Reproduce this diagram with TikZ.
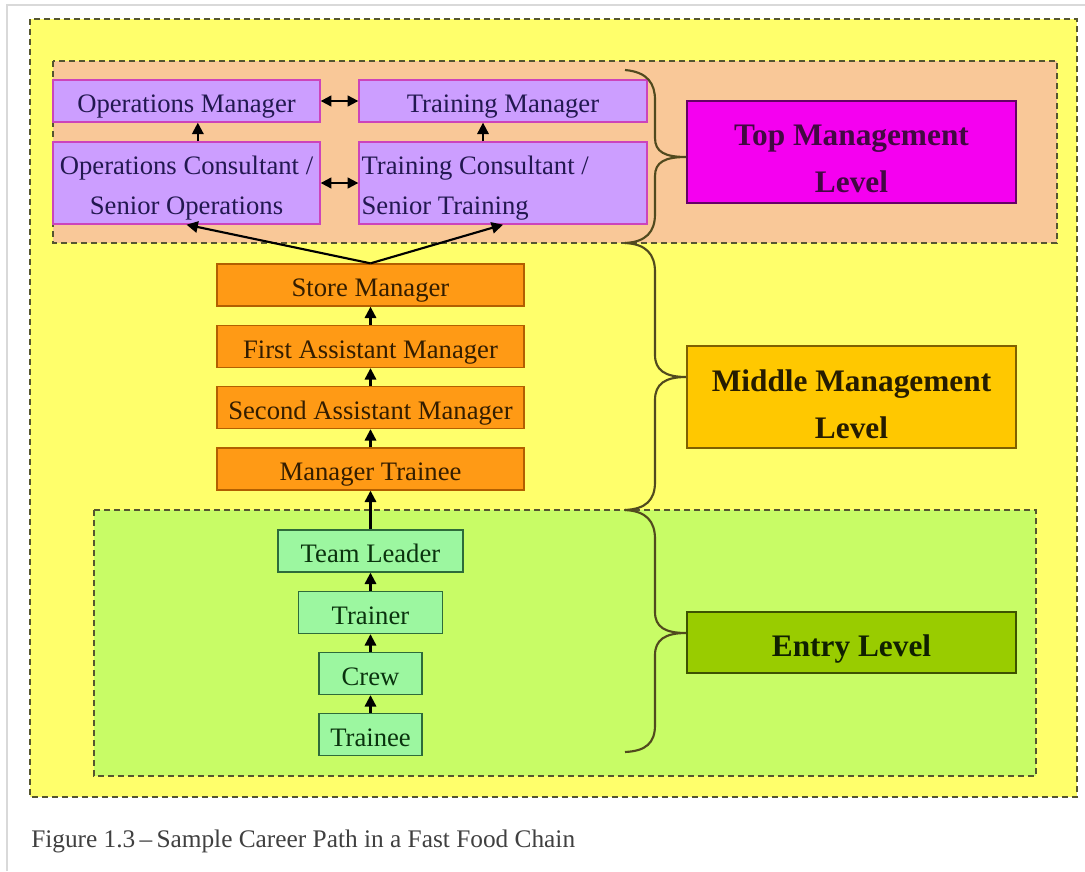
\documentclass[tikz,border=0pt]{standalone}
\usepackage{fontspec}
\setmainfont{Liberation Serif}
\usetikzlibrary{arrows.meta}
\definecolor{yellowbg}{HTML}{FFFF6B}
\definecolor{peachbg}{HTML}{F9C898}
\definecolor{greenbg}{HTML}{C8FC66}
\definecolor{dashc}{HTML}{555530}
\definecolor{purplef}{HTML}{CC9EFF}
\definecolor{purpled}{HTML}{CC44BB}
\definecolor{purplet}{HTML}{221850}
\definecolor{orangef}{HTML}{FF9A15}
\definecolor{oranged}{HTML}{B35F00}
\definecolor{oranget}{HTML}{331D00}
\definecolor{greenf}{HTML}{9CF7A0}
\definecolor{greend}{HTML}{2E6B3A}
\definecolor{greent}{HTML}{0A330E}
\definecolor{topf}{HTML}{F500F0}
\definecolor{topd}{HTML}{660066}
\definecolor{topt}{HTML}{420842}
\definecolor{midf}{HTML}{FFC800}
\definecolor{midd}{HTML}{7F6000}
\definecolor{midt}{HTML}{261C00}
\definecolor{entf}{HTML}{99CC00}
\definecolor{entd}{HTML}{3D5200}
\definecolor{entt}{HTML}{102000}
\definecolor{bracecol}{HTML}{514A1E}
\definecolor{captc}{HTML}{404040}
\begin{document}
\begin{tikzpicture}[x=0.75pt,y=-0.75pt]
\tikzset{
  dashbox/.style={draw=dashc, line width=1.1pt, dash pattern=on 4.5pt off 3pt},
  boxfont/.style={font=\fontsize{20}{30}\selectfont},
  box/.style={draw, rectangle, inner sep=0pt, line width=1pt, minimum height=31.5pt,
    boxfont, text height=17.7pt, text depth=0pt},
  purplebox/.style={box, fill=purplef, draw=purpled, text=purplet},
  orangebox/.style={box, fill=orangef, draw=oranged, text=oranget, minimum width=230.25pt},
  greenbox/.style={box, fill=greenf, draw=greend, text=greent},
  levelbox/.style={draw, rectangle, line width=1.5pt, minimum width=246.75pt, inner sep=0pt},
  leveltext/.style={inner sep=0pt, align=center, font=\bfseries\fontsize{23.5}{35.5}\selectfont},
  tip/.style={Triangle[length=8.5pt,width=8.5pt]},
  arr/.style={line width=1.6pt, -{Triangle[length=8.5pt,width=8.5pt]}},
  darr/.style={line width=1.6pt, {Triangle[length=8pt,width=8pt]}-{Triangle[length=8pt,width=8pt]}},
  bracec/.style={draw=bracecol, line width=1.6pt},
}
\useasboundingbox (0,0) rectangle (1085,871);
\fill[white] (0,0) rectangle (1085,871);
\draw[black!15, line width=0.8pt] (7,871) -- (7,5) -- (1085,5);

% background regions
\draw[dashbox, fill=yellowbg] (30,19) rectangle (1077,797);
\draw[dashbox, fill=peachbg] (53,61) rectangle (1057,243);
\draw[dashbox, fill=greenbg] (94,510) rectangle (1036,776);

% top management boxes
\node[purplebox, minimum width=200.25pt] (om) at (186.5,101) {Operations Manager};
\node[purplebox, minimum width=216pt] (tm) at (503,101) {Training Manager};
\node[purplebox, minimum width=200.25pt, minimum height=61.5pt] (oc) at (186.5,183) {};
\node[purplebox, minimum width=216pt, minimum height=61.5pt] (tc) at (503,183) {};
\node[boxfont, text=purplet, inner sep=0pt, align=center] (octext) at ([yshift=-3.75pt]oc.center)
  {Operations Consultant /\\Senior Operations};
\node[boxfont, text=purplet, inner sep=0pt, align=left, anchor=west] (tctext) at ([xshift=2.25pt,yshift=-3.75pt]tc.west)
  {Training Consultant /\\Senior Training};

% middle management boxes
\node[orangebox] (sm) at (370.5,285) {Store Manager};
\node[orangebox] (fam) at (370.5,346.5) {First Assistant Manager};
\node[orangebox] (sam) at (370.5,407.5) {Second Assistant Manager};
\node[orangebox] (mt) at (370.5,469) {Manager Trainee};

% entry boxes
\node[greenbox, minimum width=138.75pt] (tl) at (370.5,551) {Team Leader};
\node[greenbox, minimum width=108pt] (tr) at (370.5,612.5) {Trainer};
\node[greenbox, minimum width=77.25pt] (cr) at (370.5,673.5) {Crew};
\node[greenbox, minimum width=77.25pt] (te) at (370.5,734.5) {Trainee};

% level boxes
\node[levelbox, fill=topf, draw=topd, minimum height=76.5pt] (lvtop) at (851.5,152) {};
\node[leveltext, text=topt] (lvtoptext) at ([yshift=-5.25pt]lvtop.center) {Top Management\\Level};
\node[levelbox, fill=midf, draw=midd, minimum height=76.5pt] (lvmid) at (851.5,397) {};
\node[leveltext, text=midt] (lvmidtext) at ([yshift=-5.25pt]lvmid.center) {Middle Management\\Level};
\node[levelbox, fill=entf, draw=entd, text=entt, minimum height=45.75pt,
  font=\bfseries\fontsize{23.5}{35.5}\selectfont, text height=21pt, text depth=0pt] (lvent) at (851.5,642.5)
  {Entry Level};

% arrows
\draw[arr] (te) -- (cr);
\draw[arr] (cr) -- (tr);
\draw[arr] (tr) -- (tl);
\draw[arr] (tl) -- (mt);
\draw[arr] (mt) -- (sam);
\draw[arr] (sam) -- (fam);
\draw[arr] (fam) -- (sm);
\draw[arr] (sm.north) -- (oc.south);
\draw[arr] (sm.north) -- (tc.south);
\draw[arr] ([xshift=8.5pt]oc.north) -- ([xshift=8.5pt]om.south);
\draw[arr] ([xshift=-15pt]tc.north) -- ([xshift=-15pt]tm.south);
\draw[darr] (om.east) -- (tm.west);
\draw[darr] (oc.east) -- (tc.west);

% braces
\draw[bracec] (625,70) .. controls (648,72) and (655,84) .. (655,100) -- (655,138)
  .. controls (655,152) and (665,157) .. (lvtop.west |- 0,157)
  .. controls (665,157) and (655,162) .. (655,176) -- (655,214)
  .. controls (655,232) and (646,242) .. (625,243);
\draw[bracec] (625,243) .. controls (646,244) and (655,254) .. (655,272) -- (655,355)
  .. controls (655,370) and (665,377) .. (lvmid.west |- 0,377)
  .. controls (665,377) and (655,384) .. (655,400) -- (655,482)
  .. controls (655,500) and (646,509) .. (625,510);
\draw[bracec] (625,510) .. controls (646,511) and (655,521) .. (655,539) -- (655,612)
  .. controls (655,627) and (665,633) .. (lvent.west |- 0,633)
  .. controls (665,633) and (655,640) .. (655,655) -- (655,725)
  .. controls (655,743) and (646,751) .. (625,752);

% caption
\node[anchor=base west, inner sep=0pt, text=captc, font=\fontsize{19}{23}\selectfont] (cap) at (31,847)
  {Figure 1.3\,–\,Sample Career Path in a Fast Food Chain};
\end{tikzpicture}
\end{document}
